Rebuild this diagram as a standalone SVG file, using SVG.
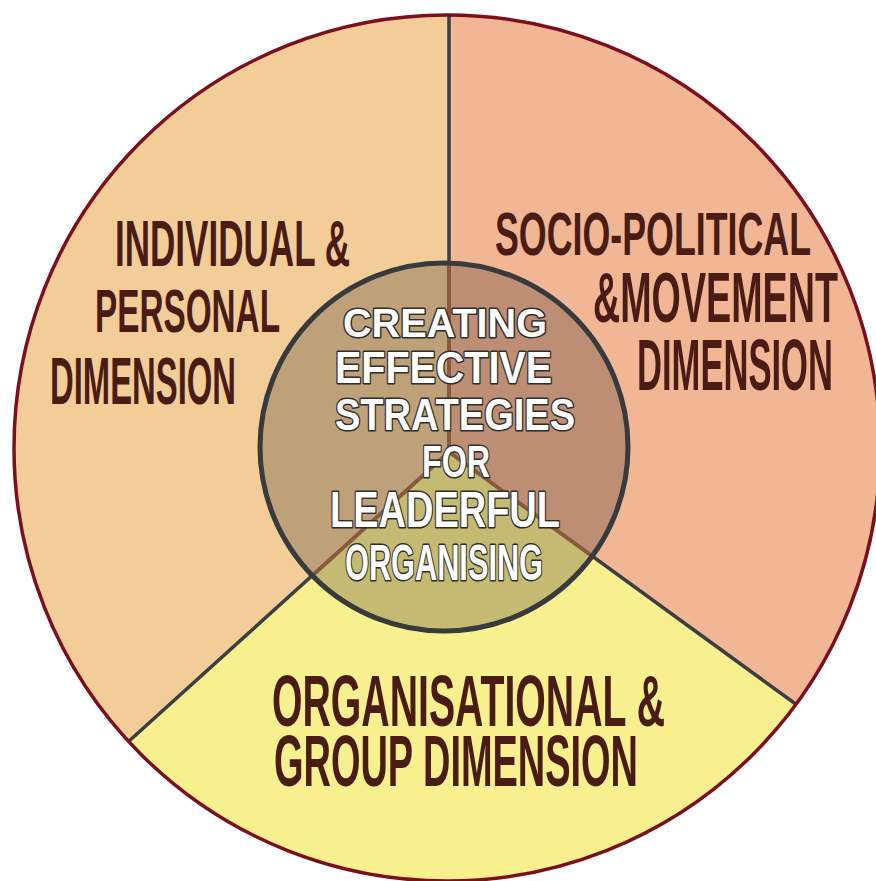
<svg xmlns="http://www.w3.org/2000/svg" width="876" height="881" viewBox="0 0 876 881">
  <style>
    .lbl { font-family: "Liberation Sans", "DejaVu Sans", Arial, sans-serif; font-weight: bold; fill: #4a1c16; }
    .ctr { font-family: "Liberation Sans", "DejaVu Sans", Arial, sans-serif; font-weight: bold; fill: #ffffff; stroke: #2e2e2e; stroke-width: 3; stroke-linejoin: round; paint-order: stroke; }
    .div-outer { stroke: #3b3e42; stroke-width: 3.5; fill: none; }
    .div-inner { stroke: #8a5a3e; stroke-width: 4; fill: none; }
  </style>
  <defs>
    <clipPath id="innerClip">
      <circle cx="444" cy="447" r="184"/>
    </clipPath>
  </defs>
  <rect width="876" height="881" fill="#ffffff"/>

  <g id="segment-individual">
    <path d="M449,452 L449,15 A433,433 0 0 0 128,742 Z" fill="#f2cd98"/>
  </g>
  <g id="segment-sociopolitical">
    <path d="M449,452 L449,15 A433,433 0 0 1 797,705 Z" fill="#f1b694"/>
  </g>
  <g id="segment-organisational">
    <path d="M449,452 L797,705 A433,433 0 0 1 128,742 Z" fill="#f8f08e"/>
  </g>

  <g id="connectors">
    <line class="div-outer" x1="449" y1="15" x2="449" y2="452"/>
    <line class="div-outer" x1="449" y1="452" x2="128" y2="742"/>
    <line class="div-outer" x1="449" y1="452" x2="797" y2="705"/>
  </g>

  <g id="outer-ring">
    <circle cx="447" cy="448" r="433" fill="none" stroke="#7b0f1e" stroke-width="3.5"/>
  </g>

  <g id="center">
    <g clip-path="url(#innerClip)">
      <path d="M449,452 L449,15 A433,433 0 0 0 128,742 Z" fill="#bfa179"/>
      <path d="M449,452 L449,15 A433,433 0 0 1 797,705 Z" fill="#bd8e74"/>
      <path d="M449,452 L797,705 A433,433 0 0 1 128,742 Z" fill="#c4ba72"/>
      <line class="div-inner" x1="449" y1="15" x2="449" y2="452"/>
      <line class="div-inner" x1="449" y1="452" x2="128" y2="742"/>
      <line class="div-inner" x1="449" y1="452" x2="797" y2="705"/>
    </g>
    <circle cx="444" cy="447" r="184" fill="none" stroke="#383b3e" stroke-width="5"/>
    <text class="ctr" x="343" y="337" font-size="40" textLength="204" lengthAdjust="spacingAndGlyphs">CREATING</text>
    <text class="ctr" x="335" y="383" font-size="45" textLength="217" lengthAdjust="spacingAndGlyphs">EFFECTIVE</text>
    <text class="ctr" x="335" y="430" font-size="45" textLength="240" lengthAdjust="spacingAndGlyphs">STRATEGIES</text>
    <text class="ctr" x="422" y="477" font-size="45" textLength="68" lengthAdjust="spacingAndGlyphs">FOR</text>
    <text class="ctr" x="330" y="527" font-size="50" textLength="230" lengthAdjust="spacingAndGlyphs">LEADERFUL</text>
    <text class="ctr" x="345" y="580" font-size="50" textLength="198" lengthAdjust="spacingAndGlyphs">ORGANISING</text>
  </g>

  <g id="label-individual">
    <text class="lbl" x="115" y="266" font-size="64" textLength="235" lengthAdjust="spacingAndGlyphs">INDIVIDUAL &amp;</text>
    <text class="lbl" x="95" y="332" font-size="62" textLength="185" lengthAdjust="spacingAndGlyphs">PERSONAL</text>
    <text class="lbl" x="50" y="404" font-size="66" textLength="186" lengthAdjust="spacingAndGlyphs">DIMENSION</text>
  </g>
  <g id="label-sociopolitical">
    <text class="lbl" x="495" y="255" font-size="62" textLength="316" lengthAdjust="spacingAndGlyphs">SOCIO-POLITICAL</text>
    <text class="lbl" x="593" y="322" font-size="70" textLength="245" lengthAdjust="spacingAndGlyphs">&amp;MOVEMENT</text>
    <text class="lbl" x="637" y="390" font-size="72" textLength="196" lengthAdjust="spacingAndGlyphs">DIMENSION</text>
  </g>
  <g id="label-organisational">
    <text class="lbl" x="272" y="726" font-size="72" textLength="393" lengthAdjust="spacingAndGlyphs">ORGANISATIONAL &amp;</text>
    <text class="lbl" x="274" y="786" font-size="72" textLength="364" lengthAdjust="spacingAndGlyphs">GROUP DIMENSION</text>
  </g>
</svg>
